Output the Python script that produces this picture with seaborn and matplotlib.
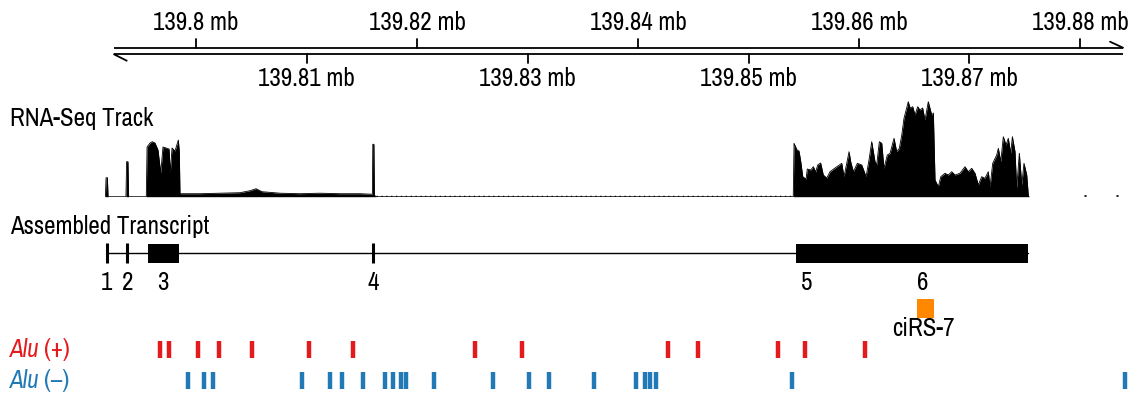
import numpy as np
import matplotlib
matplotlib.use("Agg")
import matplotlib.pyplot as plt
import seaborn as sns
from matplotlib import font_manager

# ---- data -------------------------------------------------------------
# genome ruler (mb)
ruler_top_ticks = [139.80, 139.82, 139.84, 139.86, 139.88]
ruler_bottom_ticks = [139.81, 139.83, 139.85, 139.87]
ruler_start, ruler_end = 139.79258, 139.88389

# RNA-seq coverage, position in kb, height in track units
cov_pos = [139791.80, 139791.86, 139791.98, 139792.04,
           139793.66, 139793.72, 139793.84, 139793.90,
           139795.50, 139795.57, 139795.84, 139796.05, 139796.29, 139796.56, 139796.81,
           139797.01, 139797.29, 139797.56, 139797.67, 139797.83, 139798.10, 139798.40,
           139798.49, 139798.55, 139800.36, 139802.17, 139803.98, 139804.89, 139805.43,
           139805.97, 139807.60, 139809.41, 139811.22, 139813.03, 139814.84, 139815.84,
           139815.96, 139816.00, 139816.10, 139816.14, 139816.30,
           139854.05, 139854.12, 139854.39, 139854.57, 139854.73, 139854.91, 139855.21,
           139855.32, 139855.63, 139855.87, 139856.08, 139856.26, 139856.53, 139856.77,
           139857.08, 139857.38, 139857.83, 139858.44, 139858.64, 139858.89, 139859.10,
           139859.25, 139859.49, 139859.85, 139860.25, 139860.64, 139860.93, 139861.15,
           139861.45, 139861.60, 139861.84, 139862.06, 139862.26, 139862.56, 139862.81,
           139863.17, 139863.41, 139863.65, 139863.87, 139864.07, 139864.46, 139864.62,
           139864.86, 139865.07, 139865.31, 139865.52, 139865.76, 139865.97, 139866.27,
           139866.58, 139866.73, 139866.88, 139867.18, 139867.40, 139867.78, 139868.08,
           139868.39, 139868.69, 139869.14, 139869.59, 139869.89, 139870.20, 139870.50,
           139870.80, 139871.10, 139871.40, 139871.70, 139871.86, 139872.10, 139872.46,
           139872.61, 139872.83, 139873.06, 139873.31, 139873.51, 139873.73, 139873.88,
           139874.12, 139874.27, 139874.51, 139874.73, 139874.93, 139875.18, 139875.32,
           139875.38]
cov_val = [0, 19, 19, 0,
           0, 35, 35, 0,
           0, 49.7, 53.7, 55, 53.7, 46.7, 23.7,
           49.7, 48.7, 47.7, 23.7, 48.7, 45.7, 56.7,
           45, 3, 3, 3.5, 4, 6, 8,
           5, 3.5, 3, 3.5, 3, 3, 2.5,
           2.5, 52.4, 52.4, 1.5, 0,
           0, 53.4, 46.7, 45.7, 35, 20, 17.7,
           27.7, 26.7, 30, 24.7, 31.7, 33.7, 21.7,
           18.7, 25, 28.7, 33.4, 20, 33.4, 45,
           35, 25, 33.4, 31.7, 20, 38.4, 55,
           35, 31.7, 55, 53.4, 28.4, 41.7, 43.4,
           58.4, 45, 48.4, 61.7, 78.4, 95, 88.7,
           90, 81.7, 90, 86.7, 88.7, 76.7, 95,
           81.7, 83.7, 16.7, 10, 20, 23.4, 21.7,
           25, 21.7, 23.4, 30, 25, 28.4, 23.4,
           11.7, 20, 18.4, 25, 10, 33.4, 41.7,
           48.4, 35, 60, 51.7, 58.4, 43.4, 60,
           45, 8.4, 43.4, 11.7, 33.4, 21.7, 1.7,
           0]
background_span = (139816.30, 139854.00)
background_dots = [139880.45, 139883.32]

# assembled transcript (kb)
transcript_span = (139791.92, 139875.27)
exon_ticks = [139791.92, 139793.78, 139816.05]
exon_boxes = [(139795.68, 139798.46), (139854.31, 139875.27)]
exon_labels = ["1", "2", "3", "4", "5", "6"]
exon_label_pos = [139791.92, 139793.78, 139797.04, 139816.05, 139855.27, 139865.73]
cirs7_span = (139865.22, 139866.81)
cirs7_label_pos = 139865.80

# Alu elements (kb)
alu_plus = [139796.74, 139797.56, 139800.14, 139802.08, 139805.03, 139810.25, 139814.21,
            139825.21, 139829.50, 139842.72, 139845.40, 139852.63, 139855.15, 139860.55]
alu_minus = [139799.28, 139800.68, 139801.58, 139809.62, 139812.16, 139813.17, 139815.08,
             139817.09, 139817.86, 139818.55, 139819.01, 139821.50, 139826.86, 139830.14,
             139831.98, 139836.03, 139839.83, 139840.67, 139841.13, 139841.61, 139853.94,
             139884.10]

# ---- style ------------------------------------------------------------
sns.set_theme(style="white")
narrow = sorted({f.name for f in font_manager.fontManager.ttflist if "Narrow" in f.name})
if narrow:
    plt.rcParams["font.family"] = [narrow[0], "DejaVu Sans"]
    FS = 18
else:
    plt.rcParams["font.family"] = ["Liberation Sans", "DejaVu Sans"]
    FS = 15
plt.rcParams["text.color"] = "black"
RED, BLUE, ORANGE = "#e41a1c", "#2179b5", "#ff8800"

W, H = 1142, 396
XLIM = (139.782262, 139.885611)
kb = lambda v: np.asarray(v) / 1000.0

fig = plt.figure(figsize=(W / 100, H / 100), dpi=100)

# layout axis: whole figure, y in pixel rows
ax = fig.add_axes([0, 0, 1, 1])
ax.set_xlim(XLIM)
ax.set_ylim(H, 0)
ax.axis("off")

# coverage axis
base_y, track_h = 196.7, 100
ax_cov = fig.add_axes([0, (H - base_y) / H, 1, track_h / H])
ax_cov.set_xlim(XLIM)
ax_cov.set_ylim(0, track_h)
ax_cov.axis("off")

# ---- ruler ------------------------------------------------------------
top_y, bot_y = 47.7, 54.3
ax.plot([ruler_start, ruler_end], [top_y, top_y], color="black", lw=1.3, solid_capstyle="butt")
ax.plot([ruler_start, ruler_end], [bot_y, bot_y], color="black", lw=1.3, solid_capstyle="butt")
ax.plot([ruler_start, ruler_start + 0.00115], [bot_y, bot_y + 6.4], color="black", lw=1.3)
ax.plot([ruler_end, ruler_end - 0.00117], [top_y, top_y - 6.0], color="black", lw=1.3)
for t in ruler_top_ticks:
    ax.plot([t, t], [top_y, top_y - 8.7], color="black", lw=1.3)
    ax.text(t, 22.5, f"{t:g} mb", ha="center", va="center", fontsize=FS)
for t in ruler_bottom_ticks:
    ax.plot([t, t], [bot_y, bot_y + 8.7], color="black", lw=1.3)
    ax.text(t, 79, f"{t:g} mb", ha="center", va="center", fontsize=FS)

# ---- RNA-seq track ------------------------------------------------------
ax.text(10 / W, 118, "RNA-Seq Track", transform=ax.get_yaxis_transform(),
        ha="left", va="center", fontsize=FS)
x = kb(cov_pos)
y = np.asarray(cov_val)
ax_cov.fill_between(x, 0, y, color="black", lw=0)
sns.lineplot(x=x, y=y, ax=ax_cov, color="black", lw=0.6, sort=False, estimator=None)
ax_cov.plot(kb(background_span), [0.8, 0.8], color="black", lw=1.0, ls=(0, (1, 2.5)))
for d in kb(background_dots):
    ax_cov.plot([d, d + 0.00012], [0.8, 0.8], color="black", lw=1.2)

# ---- transcript ---------------------------------------------------------
ax.text(10 / W, 226, "Assembled Transcript", transform=ax.get_yaxis_transform(),
        ha="left", va="center", fontsize=FS)
line_y = 253.3
ax.plot(kb(transcript_span), [line_y, line_y], color="black", lw=1.0)
ax.vlines(kb(exon_ticks), 242.7, 263.3, color="black", lw=2.2)
for s, e in exon_boxes:
    ax.fill_between(kb([s, e]), 244, 263.3, color="black", lw=0)
for lab, p in zip(exon_labels, kb(exon_label_pos)):
    ax.text(p, 283, lab, ha="center", va="center", fontsize=FS)

ax.fill_between(kb(cirs7_span), 299, 318, color=ORANGE, lw=0)
ax.text(kb(cirs7_label_pos), 328, "ciRS-7", ha="center", va="center", fontsize=FS)

# ---- Alu ----------------------------------------------------------------
for lab, pos, col, yc in [("(+)", alu_plus, RED, 349.5), ("(\u2013)", alu_minus, BLUE, 380.5)]:
    ax.vlines(kb(pos), yc - 8.5, yc + 8.5, color=col, lw=3.2)
    t1 = ax.text(10 / W, yc, "Alu", transform=ax.get_yaxis_transform(), ha="left",
                 va="center", fontsize=FS, style="italic", color=col)
    ax.annotate(lab, xy=(1, 0.5), xycoords=t1, xytext=(3, 0), textcoords="offset points",
                ha="left", va="center", fontsize=FS, color=col)

fig.savefig("out.png", dpi=100)
